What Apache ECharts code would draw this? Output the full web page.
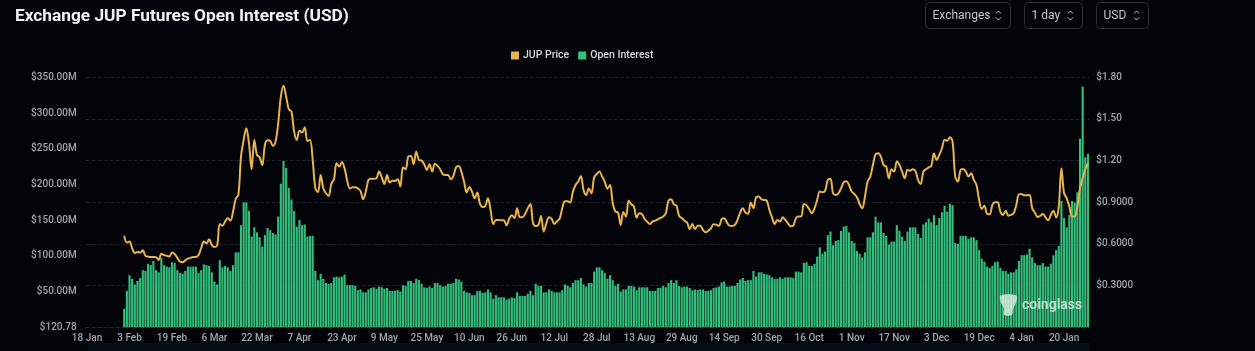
<!DOCTYPE html>
<html><head><meta charset="utf-8">
<style>html,body{margin:0;padding:0;background:#02040a;overflow:hidden}#c{width:1255px;height:351px}</style>
<script src="https://cdn.jsdelivr.net/npm/echarts@6/dist/echarts.min.js"></script>
</head><body><div id="c"></div>
<script>
const titleText = 'Exchange JUP Futures Open Interest (USD)';
const leftTickLabels = ['$120.78','$50.00M','$100.00M','$150.00M','$200.00M','$250.00M','$300.00M','$350.00M'];
const rightTickLabels = ['','$0.3000','$0.6000','$0.9000','$1.20','$1.50','$1.80'];
const leadingEmptyDays = 14;
const openInterestM = [
26,51,73,68,60,65,69,80,79,89,87,93,80,77,97,87,85,84,91,90,80,76,75,79,85,85,85,85,76,80,88,87,86,77,64,60,94,84,86,84,79,87,105,105,
143,175,175,163,127,140,133,126,113,129,139,136,132,130,155,201,233,223,195,179,163,141,150,143,144,127,128,128,79,66,75,68,62,61,62,70,71,70,71,74,59,59,59,58,52,53,49,49,53,55,56,54,57,56,54,55,51,51,51,52,50,59,58,65,65,62,68,66,
61,56,55,57,55,62,62,59,57,58,61,61,62,68,67,64,51,49,48,45,45,51,51,48,49,53,49,40,45,42,42,42,39,40,42,41,49,44,44,44,47,51,45,61,58,58,49,49,53,51,49,49,49,52,60,58,56,62,66,66,69,60,57,62,62,78,84,84,80,76,68,73,66,58,61,50,53,53,58,58,57,52,56,56,56,56,51,51,51,55,55,58,56,62,66,62,66,58,56,57,57,55,52,53,52,53,53,51,51,52,55,56,57,63,64,57,57,58,58,62,67,69,65,66,66,79,71,77,77,75,74,73,70,68,68,70,68,70,70,70,69,78,78,77,90,91,86,86,89,99,112,103,106,129,134,115,121,
122,135,141,142,133,121,118,107,103,98,105,126,126,133,155,147,147,132,128,116,120,120,143,135,127,121,134,140,140,140,131,125,144,147,152,147,157,143,153,161,170,162,173,171,118,117,128,128,128,124,126,126,122,108,96,92,85,83,86,91,92,83,79,79,75,77,77,81,93,101,101,102,110,98,90,87,87,90,85,85,89,101,108,114,
177,153,140,157,177,175,189,264,337,238,243];
const jupPrice = [
.66,.61,.617,.569,.535,.542,.538,.554,.514,.509,.506,.506,.504,.485,.53,.52,.516,.509,.538,.528,.5,.473,.468,.482,.494,.5,.506,.506,.52,.571,.617,.605,.634,.593,.578,.588,.744,.732,.761,.787,.768,.833,.926,.953,
1.229,1.349,1.433,1.325,1.138,1.349,1.241,1.224,1.166,1.313,1.346,1.342,1.306,1.337,1.469,1.661,1.74,1.661,1.57,1.553,1.409,1.349,1.416,1.402,1.44,1.342,1.349,1.205,1,.974,1.097,1,.965,.946,1.032,1.066,1.181,1.157,1.19,1.145,1.056,1,1.008,1.008,1,.982,.922,.977,1.061,1.07,1.07,1.073,1.121,1.08,1.032,1.097,1.042,1.056,1.054,1.066,1.013,1.152,1.138,1.229,1.234,1.174,1.265,1.205,
1.2,1.174,1.133,1.174,1.121,1.178,1.162,1.138,1.102,1.097,1.097,1.066,1.09,1.152,1.162,1.121,1.049,.972,1.01,.977,.929,.97,.888,.866,.874,.929,.845,.742,.773,.773,.77,.77,.734,.78,.806,.787,.857,.792,.792,.816,.857,.888,.749,.73,.737,.802,.689,.749,.792,.78,.744,.763,.782,.857,.907,.907,.898,.977,1.025,1.049,1.09,.989,.953,1,.965,1.08,1.104,1.121,1.085,1.049,.998,1.025,.893,.833,.826,.737,.83,.797,.912,.886,.869,.79,.821,.816,.78,.761,.744,.761,.768,.778,.787,.797,.821,.912,.922,.886,.876,.802,.787,.768,.754,.706,.744,.706,.732,.732,.701,.684,.696,.713,.742,.739,.73,.778,.785,.756,.732,.73,.737,.773,.826,.857,.826,.818,.898,.857,.936,.941,.922,.917,.912,.845,.792,.744,.773,.761,.792,.773,.749,.727,.732,.785,.797,.797,.888,.878,.85,.821,.857,.917,.977,.972,.984,1.061,1.07,.965,.953,
.965,1,1.044,1.051,1.025,.977,.96,.936,.888,.857,.941,1.049,1.085,1.169,1.246,1.253,1.229,1.169,1.157,1.073,1.138,1.121,1.193,1.169,1.121,1.073,1.133,1.128,1.138,1.126,1.061,1.032,1.121,1.138,1.152,1.162,1.253,1.205,1.241,1.289,1.349,1.344,1.368,1.337,1.085,1.049,1.133,1.14,1.121,1.085,1.109,1.061,1.025,.917,.852,.876,.816,.814,.881,.9,.9,.833,.809,.84,.804,.809,.821,.881,.958,.96,.95,.95,.953,.857,.826,.794,.802,.816,.792,.77,.809,.84,.79,.869,1.145,.965,.929,.869,.797,.797,.869,1,1.073,1.138,1.181];
const totalDays = 378;
const monthNames = ['Jan','Feb','Mar','Apr','May','Jun','Jul','Aug','Sep','Oct','Nov','Dec'];
const categories = [];
for (let i = 0; i < totalDays; i++) {
  const d = new Date(Date.UTC(2024, 0, 18 + i));
  categories.push(d.getUTCDate() + ' ' + monthNames[d.getUTCMonth()]);
}
const pad = Array(leadingEmptyDays).fill(null);
const font = 'Roboto, sans-serif';
const chart = echarts.init(document.getElementById('c'), null, {renderer:'canvas'});

function button(x, w, label) {
  const cx = x + w - 12;
  return {type:'group', children:[
    {type:'rect', shape:{x:x, y:2.5, width:w, height:26, r:4}, style:{fill:'transparent', stroke:'#2b2f36', lineWidth:1}},
    {type:'text', style:{x:x+7, y:16, text:label, fill:'#c4c8ce', font:'400 12px '+font, textVerticalAlign:'middle'}},
    {type:'polyline', shape:{points:[[cx-2.5,13.5],[cx,11],[cx+2.5,13.5]]}, style:{fill:'none', stroke:'#c4c8ce', lineWidth:1}},
    {type:'polyline', shape:{points:[[cx-2.5,17.5],[cx,20],[cx+2.5,17.5]]}, style:{fill:'none', stroke:'#c4c8ce', lineWidth:1}}
  ]};
}
chart.setOption({
  animation:false,
  backgroundColor:'#02040a',
  title:{text:titleText, left:10, top:3, textStyle:{color:'#f2f3f5', fontFamily:font, fontSize:17.3, fontWeight:700}},
  legend:{top:45, left:506, itemWidth:8, itemHeight:8, itemGap:9, icon:'rect',
    textStyle:{color:'#d8dade', fontFamily:font, fontSize:10.5, fontWeight:500, padding:[0,0,0,-1]},
    data:[{name:'JUP Price', itemStyle:{color:'#E9B44C'}},{name:'Open Interest', itemStyle:{color:'#2FC777'}}]},
  grid:{left:85.7, top:77.3, height:250, width:1003.6},
  xAxis:{type:'category', data:categories, boundaryGap:true,
    axisTick:{show:false},
    axisLine:{show:true, lineStyle:{color:'#1d2026', type:'dashed', width:1}},
    axisLabel:{color:'#a2a5aa', fontFamily:font, fontSize:10, fontWeight:500, margin:6, interval:15, hideOverlap:false}},
  yAxis:[
    {type:'value', min:0, max:350, interval:50, position:'left', splitLine:{show:false}, axisLine:{show:false}, axisTick:{show:false},
     axisLabel:{color:'#a2a5aa', fontFamily:font, fontSize:10, fontWeight:500, margin:9, formatter:(v)=>leftTickLabels[Math.round(v/50)]}},
    {type:'value', min:0, max:1.8, interval:0.3, position:'right', axisLine:{show:false}, axisTick:{show:false},
     splitLine:{show:true, lineStyle:{color:'#1d2026', type:'dashed', width:1}},
     axisLabel:{color:'#a2a5aa', fontFamily:font, fontSize:10, fontWeight:500, margin:7, formatter:(v)=>rightTickLabels[Math.round(v/0.3)]}}
  ],
  series:[
    {name:'JUP Price', type:'line', yAxisIndex:1, data:pad.concat(jupPrice), smooth:0.35, showSymbol:false, z:5,
     lineStyle:{color:'#E9B44C', width:2}, itemStyle:{color:'#E9B44C'}},
    {name:'Open Interest', type:'bar', yAxisIndex:0, data:pad.concat(openInterestM), barWidth:'80%', z:2,
     itemStyle:{color:'#34BE7B'}}
  ],
  graphic:[
    {type:'rect', shape:{x:88, y:343, width:1002, height:8}, style:{fill:'#050b17'}, z:0},
    button(925.5,85,'Exchanges'),
    button(1024.5,58,'1 day'),
    button(1096.5,52,'USD'),
    {type:'group', z:20, children:[
      {type:'polygon', z:20, shape:{smooth:0.3, points:[[1000,296],[1004,294.5],[1012,294.5],[1017,296],[1016,303],[1013,309],[1012,315],[1004,315],[1004,308],[1001,303]]}, style:{fill:'rgba(225,240,232,0.8)'}},
      {type:'text', z:20, style:{x:1022, y:305.5, text:'coinglass', fill:'rgba(230,240,235,0.8)', font:'600 14px '+font, textVerticalAlign:'middle'}}
    ]}
  ]
});
</script></body></html>
